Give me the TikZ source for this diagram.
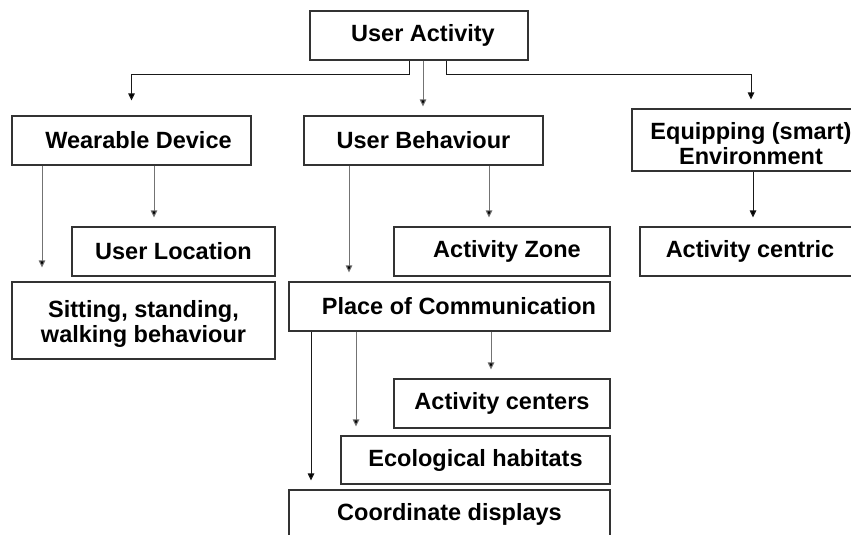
\documentclass[tikz,border=0pt]{standalone}
\usepackage{fontspec}
\setmainfont{Liberation Sans}
\usepackage{tikz}
\usetikzlibrary{arrows.meta,calc}
\def\drop#1#2#3#4{\draw[line,#4] ([xshift=#3]#1.south) -- ([xshift=#3]#1.south |- #2.north)}
\tikzstyle{box}=[draw=black!80,line width=1.1pt,align=center,inner sep=0pt,font=\fontsize{23.5}{25}\selectfont\bfseries]
\tikzstyle{line}=[draw=black!55,line width=1pt,shorten >=9pt,-{Triangle[length=7pt,width=6.5pt,fill=black]}]
\tikzstyle{dark}+=[draw=black!90]

\begin{document}
\begin{tikzpicture}[x=1pt,y=-1pt]
    \clip (0,0) rectangle (851,535);
    \fill[white] (0,0) rectangle (851,535);
    % top
    \node[box,minimum width=218pt,minimum height=49pt] (act) at (419,35.5) {\hspace*{8pt}User Activity};
    % first row
    \node[box,minimum width=239pt,minimum height=49pt] (wear) at (131.5,140.5) {\hspace*{14pt}Wearable Device};
    \node[box,minimum width=239pt,minimum height=49pt] (behav) at (423.5,140.5) {User Behaviour};
    \node[box,minimum width=238pt,minimum height=62pt] (equip) at (751,140) {\rule{0pt}{25pt}Equipping (smart)\\Environment};
    % second row
    \node[box,minimum width=203pt,minimum height=49pt] (loc) at (173.5,251.5) {User Location};
    \node[box,minimum width=216pt,minimum height=49pt] (zone) at (502,251.5) {\hspace*{10pt}Activity Zone};
    \node[box,minimum width=220pt,minimum height=49pt] (centric) at (750,251.5) {Activity centric};
    \node[box,minimum width=263pt,minimum height=77pt] (sit) at (143.5,320.5) {\rule{0pt}{24pt}Sitting, standing,\\walking behaviour};
    \node[box,minimum width=321pt,minimum height=49pt] (place) at (449.5,306.5) {\hspace*{19pt}Place of Communication};
    % below place
    \node[box,minimum width=216pt,minimum height=49pt] (centers) at (502,403.5) {Activity centers};
    \node[box,minimum width=269pt,minimum height=48pt] (eco) at (475.5,460) {Ecological habitats};
    \node[box,minimum width=321pt,minimum height=49pt] (coord) at (449.5,514.5) {Coordinate displays};

    \draw[line,dark,shorten >=15pt] ([xshift=-10pt]act.south) -- ++(0,13.7) -| (wear.north);
    \drop{act}{behav}{4pt}{};
    \draw[line,dark] ([xshift=27pt]act.south) -- ++(0,13.7) -| (equip.north);
    \drop{wear}{loc}{22.5pt}{};
    \drop{wear}{sit}{-89.5pt}{shorten >=14pt};
    \drop{behav}{place}{-74.5pt}{};
    \drop{behav}{zone}{65.5pt}{};
    \drop{equip}{centric}{2pt}{dark};
    \drop{place}{centers}{41.5pt}{};
    \drop{place}{eco}{-93.5pt}{};
    \drop{place}{coord}{-138.5pt}{dark};
\end{tikzpicture}
\end{document}
